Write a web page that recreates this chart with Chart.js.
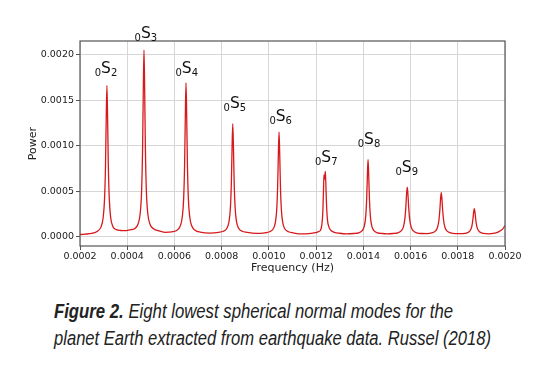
<!DOCTYPE html>
<html>
<head>
<meta charset="utf-8">
<script src="https://cdn.jsdelivr.net/npm/chart.js@4.4.1/dist/chart.umd.min.js"></script>
<style>
  html, body { margin: 0; padding: 0; background: #fff; }
  #wrap { position: relative; width: 550px; height: 391px; overflow: hidden; }
  #plot { position: absolute; left: 0; top: 0; }
  #caption {
    position: absolute; left: 54px; top: 298px; width: 490px;
    font-family: "Liberation Sans", Arial, sans-serif;
    font-style: italic; font-size: 19.5px; line-height: 26.7px; color: #222;
    white-space: nowrap;
  }
  #caption span { display: inline-block; transform-origin: 0 50%; }
  #caption b { font-weight: bold; }
</style>
</head>
<body>
<div id="wrap">
  <canvas id="plot" width="550" height="285"></canvas>
  <div id="caption"><span id="cap1"><b>Figure 2.</b> Eight lowest spherical normal modes for the</span><br><span id="cap2">planet Earth extracted from earthquake data. Russel (2018)</span></div>
</div>
<script>
// spectrum
const freqs = [
  0.0002, 0.00024, 0.000274, 0.000289, 0.000298, 0.000304, 0.000308, 0.000311, 0.000314, 0.000317,
  0.00032, 0.000324, 0.00033, 0.000339, 0.000354, 0.000372, 0.000392, 0.000411, 0.000431, 0.000446,
  0.000455, 0.000461, 0.000465, 0.000468, 0.000471, 0.000474, 0.000477, 0.000481, 0.000487, 0.000496,
  0.000511, 0.000531, 0.00056, 0.000589, 0.000609, 0.000624, 0.000633, 0.000639, 0.000643, 0.000646,
  0.000649, 0.000652, 0.000655, 0.000659, 0.000665, 0.000674, 0.000689, 0.000709, 0.00075, 0.000787,
  0.000807, 0.000822, 0.000831, 0.000837, 0.000841, 0.000844, 0.000847, 0.00085, 0.000853, 0.000857,
  0.000863, 0.000872, 0.000887, 0.000907, 0.000945, 0.000983, 0.001003, 0.001018, 0.001027, 0.001033,
  0.001037, 0.00104, 0.001043, 0.001046, 0.001049, 0.001053, 0.001059, 0.001068, 0.001083, 0.001103,
  0.00114, 0.001178, 0.001198, 0.00121, 0.001218, 0.001224, 0.001228, 0.001231, 0.001233, 0.001235,
  0.001237, 0.001239, 0.001241, 0.001244, 0.001248, 0.001254, 0.001263, 0.001278, 0.001298, 0.00133,
  0.00136, 0.00138, 0.001395, 0.001404, 0.00141, 0.001414, 0.001417, 0.00142, 0.001423, 0.001426,
  0.00143, 0.001436, 0.001445, 0.00146, 0.00148, 0.0015, 0.001526, 0.001546, 0.001561, 0.00157,
  0.001576, 0.00158, 0.001583, 0.001586, 0.001589, 0.001592, 0.001596, 0.001602, 0.001611, 0.001626,
  0.001646, 0.00167, 0.00169, 0.001705, 0.001714, 0.00172, 0.001724, 0.001727, 0.00173, 0.001733,
  0.001736, 0.00174, 0.001746, 0.001755, 0.00177, 0.00179, 0.00181, 0.00183, 0.001845, 0.001854,
  0.00186, 0.001864, 0.001867, 0.00187, 0.001873, 0.001876, 0.00188, 0.001886, 0.001895, 0.00191,
  0.00193, 0.00195, 0.00197, 0.00199, 0.002
];
const power = [
  0.000026, 0.000036, 0.000062, 0.00011, 0.00021, 0.00042, 0.00078, 0.00129, 0.00166, 0.00129,
  0.00078, 0.00042, 0.00021, 0.000115, 0.00008, 0.00007, 0.000068, 0.000078, 0.00009, 0.000142,
  0.00026, 0.00051, 0.00096, 0.00159, 0.00205, 0.00159, 0.00096, 0.00051, 0.00026, 0.000142,
  0.00009, 0.000068, 0.00005, 0.000055, 0.00007, 0.000116, 0.000215, 0.00042, 0.00079, 0.00131,
  0.00169, 0.00131, 0.00079, 0.00042, 0.000215, 0.000116, 0.00007, 0.000052, 0.000042, 0.00005,
  0.000062, 0.000095, 0.000167, 0.00032, 0.00059, 0.00097, 0.00124, 0.00097, 0.00059, 0.00032,
  0.000167, 0.000095, 0.000062, 0.00005, 0.000038, 0.000044, 0.000056, 0.000086, 0.000153, 0.000294,
  0.000545, 0.000895, 0.00115, 0.000895, 0.000545, 0.000294, 0.000153, 0.000086, 0.000056, 0.000044,
  0.000032, 0.000038, 0.000046, 0.000058, 0.00007, 0.00013, 0.00025, 0.00048, 0.00068, 0.00063,
  0.00066, 0.00072, 0.0006, 0.00036, 0.00019, 0.00011, 0.00007, 0.00005, 0.00004, 0.000032,
  0.000037, 0.000045, 0.000068, 0.000117, 0.00022, 0.000405, 0.00066, 0.00085, 0.00066, 0.000405,
  0.00022, 0.000117, 0.000068, 0.000045, 0.000037, 0.000033, 0.000037, 0.000045, 0.000068, 0.000113,
  0.0002, 0.000327, 0.000466, 0.000546, 0.000466, 0.000327, 0.0002, 0.000113, 0.000068, 0.000045,
  0.000037, 0.000036, 0.000044, 0.000063, 0.000103, 0.00018, 0.000292, 0.000414, 0.000485, 0.000414,
  0.000292, 0.00018, 0.000103, 0.000063, 0.000044, 0.000036, 0.000035, 0.000038, 0.00005, 0.000075,
  0.000122, 0.000191, 0.000267, 0.00031, 0.000267, 0.000191, 0.000122, 0.000075, 0.00005, 0.000038,
  0.000034, 0.000038, 0.000052, 0.000085, 0.000125
];

const xTicks = [0.0002, 0.0004, 0.0006, 0.0008, 0.0010, 0.0012, 0.0014, 0.0016, 0.0018, 0.0020];
const yTicks = [0.0000, 0.0005, 0.0010, 0.0015, 0.0020];

// mode labels 0S2 .. 0S9 (centre x, baseline y in data units)
const modeNums = ['2', '3', '4', '5', '6', '7', '8', '9'];
const modeX = [0.00031, 0.000479, 0.000652, 0.000856, 0.00105, 0.001243, 0.001424, 0.001584];
const modeY = [0.001797, 0.002179, 0.001803, 0.001414, 0.001268, 0.000824, 0.001024, 0.00071];

const points = freqs.map((f, i) => ({x: f, y: power[i]}));

const frame = {
  id: 'frame',
  afterDraw(chart) {
    const ctx = chart.ctx;
    const a = chart.chartArea;
    ctx.save();
    ctx.strokeStyle = '#555';
    ctx.lineWidth = 1.2;
    ctx.strokeRect(a.left, a.top, a.right - a.left, a.bottom - a.top);

    // mode labels
    const sx = chart.scales.x, sy = chart.scales.y;
    ctx.fillStyle = '#111';
    ctx.textBaseline = 'alphabetic';
    ctx.textAlign = 'left';
    const subFont = '10px "DejaVu Sans"', bigFont = '15.5px "DejaVu Sans"';
    modeNums.forEach((n, i) => {
      const cx = sx.getPixelForValue(modeX[i]);
      const by = sy.getPixelForValue(modeY[i]);
      ctx.font = subFont;
      const w0 = ctx.measureText('0').width;
      const wn = ctx.measureText(n).width;
      ctx.font = bigFont;
      const ws = ctx.measureText('S').width;
      let x = cx - (w0 + ws + wn) / 2;
      ctx.font = subFont;
      ctx.fillText('0', x, by + 3);
      ctx.font = bigFont;
      ctx.fillText('S', x + w0, by);
      ctx.font = subFont;
      ctx.fillText(n, x + w0 + ws, by + 3);
    });
    ctx.restore();
  }
};

new Chart(document.getElementById('plot').getContext('2d'), {
  type: 'line',
  data: {
    datasets: [{
      data: points,
      borderColor: '#d7191c',
      borderWidth: 1.3,
      pointRadius: 0,
      cubicInterpolationMode: 'monotone',
      fill: false
    }]
  },
  options: {
    responsive: false,
    animation: false,
    layout: { padding: { left: 0, right: 45, top: 41, bottom: 0 } },
    plugins: { legend: { display: false }, tooltip: { enabled: false } },
    scales: {
      x: {
        type: 'linear',
        min: 0.0002,
        max: 0.0020,
        afterBuildTicks: (s) => { s.ticks = xTicks.map(v => ({value: v})); },
        afterFit: (s) => { s.height = 39; },
        ticks: {
          color: '#1a1a1a',
          font: { family: 'DejaVu Sans', size: 9.5 },
          padding: 1,
          maxRotation: 0,
          callback: (v) => Number(v).toFixed(4)
        },
        grid: { color: '#d6d6d6', lineWidth: 1, tickLength: 4, tickColor: '#555' },
        border: { display: false },
        title: {
          display: true, text: 'Frequency (Hz)', color: '#222',
          font: { family: 'DejaVu Sans', size: 11 },
          padding: { top: 0, bottom: 10 }
        }
      },
      y: {
        min: -0.0001,
        max: 0.00215,
        afterBuildTicks: (s) => { s.ticks = yTicks.map(v => ({value: v})); },
        afterFit: (s) => { s.width = 80; },
        ticks: {
          color: '#1a1a1a',
          font: { family: 'DejaVu Sans', size: 9.5 },
          padding: 2,
          callback: (v) => Number(v).toFixed(4)
        },
        grid: { color: '#d6d6d6', lineWidth: 1, tickLength: 4, tickColor: '#555' },
        border: { display: false },
        title: {
          display: true, text: 'Power', color: '#222',
          font: { family: 'DejaVu Sans', size: 11 },
          padding: { top: 27, bottom: 0 }
        }
      }
    }
  },
  plugins: [frame]
});

// squeeze the caption lines to the condensed widths of the original
const capWidths = [399, 437];
['cap1', 'cap2'].forEach((id, i) => {
  const el = document.getElementById(id);
  const w = el.getBoundingClientRect().width;
  el.style.transform = 'scaleX(' + (capWidths[i] / w) + ')';
});
</script>
</body>
</html>
